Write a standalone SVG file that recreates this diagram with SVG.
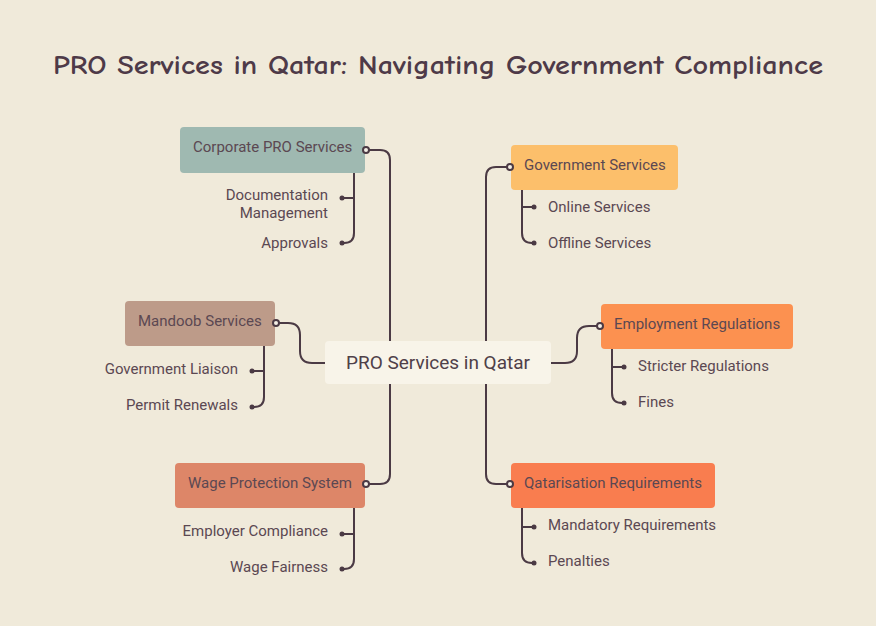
<svg xmlns="http://www.w3.org/2000/svg" width="876" height="626" viewBox="0 0 876 626">
<style>
.bg{fill:#f0eada}
.title{font-family:"Comic Neue","Lato","Noto Sans",sans-serif;font-weight:bold;font-size:26px;fill:#4e3a48}
.lbl{font-family:Roboto,"Liberation Sans",sans-serif;font-size:15px;fill:#5b4852}
.sub{font-family:Roboto,"Liberation Sans",sans-serif;font-size:15px;fill:#5b4852}
.ctr{font-family:Roboto,"Liberation Sans",sans-serif;font-size:19px;fill:#4f4048}
.ln{fill:none;stroke:#4b3a44;stroke-width:2}
.hd{fill:#f5f0e6;stroke:#4b3a44;stroke-width:2}
.fd{fill:#4b3a44}
</style>
<rect class="bg" x="0" y="0" width="876" height="626"/>
<text class="title" x="438" y="74" text-anchor="middle" textLength="770" lengthAdjust="spacingAndGlyphs">PRO Services in Qatar: Navigating Government Compliance</text>
<g id="connectors">
<path class="ln" d="M366,150 H380 Q390,150 390,160 V474 Q390,484 380,484 H366"/>
<path class="ln" d="M276,323 H288 Q300,323 300,335 V351 Q300,363 312,363 H325"/>
<path class="ln" d="M510,167 H496 Q486,167 486,177 V474 Q486,484 496,484 H510"/>
<path class="ln" d="M551,363 H565 Q577,363 577,351 V338 Q577,326 589,326 H600"/>
<path class="ln" d="M354,173 V233 Q354,243 344,243 H342 M354,198 H342"/>
<path class="ln" d="M522,190 V233 Q522,243 532,243 H534 M522,207 H534"/>
<path class="ln" d="M264,346 V397 Q264,407 254,407 H252 M264,371 H252"/>
<path class="ln" d="M612,349 V393 Q612,403 622,403 H624 M612,367 H624"/>
<path class="ln" d="M354,508 V559 Q354,569 344,569 H342 M354,534 H342"/>
<path class="ln" d="M522,508 V553 Q522,563 532,563 H534 M522,527 H534"/>
<circle class="fd" cx="342" cy="198" r="2.5"/><circle class="fd" cx="342" cy="243" r="2.5"/>
<circle class="fd" cx="534" cy="207" r="2.5"/><circle class="fd" cx="534" cy="243" r="2.5"/>
<circle class="fd" cx="252" cy="371" r="2.5"/><circle class="fd" cx="252" cy="407" r="2.5"/>
<circle class="fd" cx="624" cy="367" r="2.5"/><circle class="fd" cx="624" cy="403" r="2.5"/>
<circle class="fd" cx="342" cy="534" r="2.5"/><circle class="fd" cx="342" cy="569" r="2.5"/>
<circle class="fd" cx="534" cy="527" r="2.5"/><circle class="fd" cx="534" cy="563" r="2.5"/>
</g>
<g id="center">
<rect x="325" y="341" width="226" height="43" rx="4" fill="#f8f4e9"/>
<text class="ctr" x="438" y="369" text-anchor="middle">PRO Services in Qatar</text>
</g>
<g id="corporate">
<rect x="180" y="127" width="185" height="46" rx="4" fill="#9fb9b1"/>
<text class="lbl" x="193" y="152">Corporate PRO Services</text>
<circle class="hd" cx="366" cy="150" r="3"/>
<text class="sub" x="328" y="200" text-anchor="end">Documentation</text>
<text class="sub" x="328" y="218" text-anchor="end">Management</text>
<text class="sub" x="328" y="248" text-anchor="end">Approvals</text>
</g>
<g id="government">
<rect x="511" y="145" width="167" height="45" rx="4" fill="#fcbf6b"/>
<text class="lbl" x="524" y="170">Government Services</text>
<circle class="hd" cx="510" cy="167" r="3"/>
<text class="sub" x="548" y="212">Online Services</text>
<text class="sub" x="548" y="248">Offline Services</text>
</g>
<g id="mandoob">
<rect x="125" y="301" width="150" height="45" rx="4" fill="#bd9b89"/>
<text class="lbl" x="138" y="326">Mandoob Services</text>
<circle class="hd" cx="276" cy="323" r="3"/>
<text class="sub" x="238" y="374" text-anchor="end">Government Liaison</text>
<text class="sub" x="238" y="410" text-anchor="end">Permit Renewals</text>
</g>
<g id="employment">
<rect x="601" y="304" width="192" height="45" rx="4" fill="#fc9150"/>
<text class="lbl" x="614" y="329">Employment Regulations</text>
<circle class="hd" cx="600" cy="326" r="3"/>
<text class="sub" x="638" y="371">Stricter Regulations</text>
<text class="sub" x="638" y="407">Fines</text>
</g>
<g id="wage">
<rect x="175" y="463" width="190" height="45" rx="4" fill="#dd8668"/>
<text class="lbl" x="188" y="488">Wage Protection System</text>
<circle class="hd" cx="366" cy="484" r="3"/>
<text class="sub" x="328" y="536" text-anchor="end">Employer Compliance</text>
<text class="sub" x="328" y="572" text-anchor="end">Wage Fairness</text>
</g>
<g id="qatarisation">
<rect x="511" y="463" width="204" height="45" rx="4" fill="#f97d4f"/>
<text class="lbl" x="524" y="488">Qatarisation Requirements</text>
<circle class="hd" cx="510" cy="484" r="3"/>
<text class="sub" x="548" y="530">Mandatory Requirements</text>
<text class="sub" x="548" y="566">Penalties</text>
</g>
</svg>
